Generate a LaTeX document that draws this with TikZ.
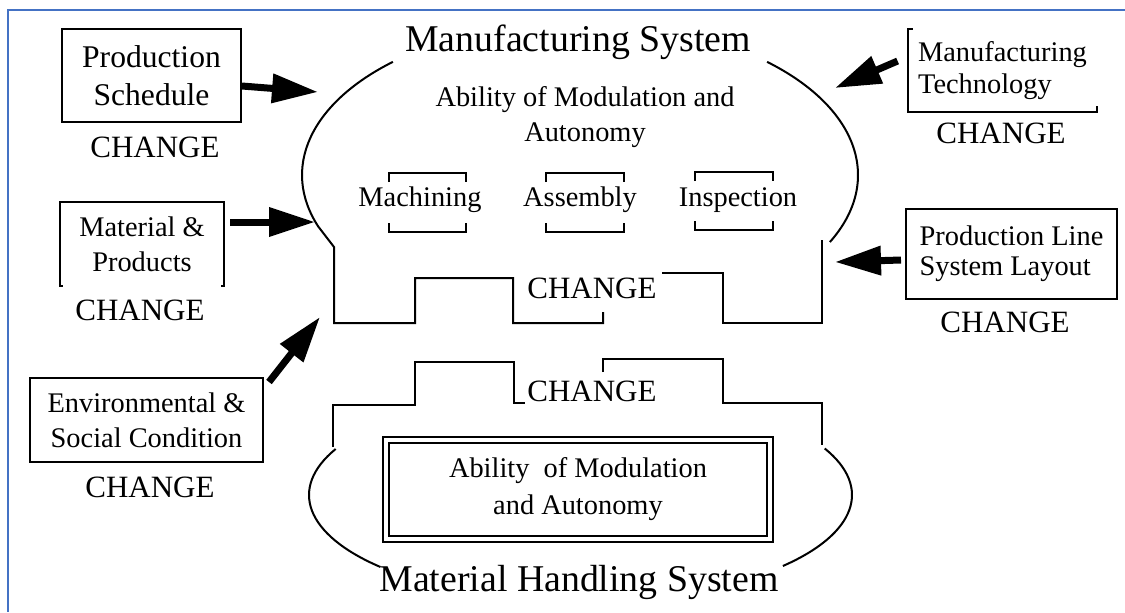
\documentclass[tikz,border=0pt]{standalone}
\usepackage{fontspec}
\setmainfont{Liberation Serif}
\usetikzlibrary{arrows.meta}
\definecolor{framecol}{RGB}{68,114,196}

\begin{document}
\begin{tikzpicture}[x=0.5pt,y=-0.5pt,
    box/.style={draw=black, line width=1pt, inner sep=0pt},
    lbl/.style={align=center, font=\fontsize{14.2pt}{17.5pt}\selectfont},
    chg/.style={font=\fontsize{15.5pt}{18pt}\selectfont},
    ttl/.style={font=\fontsize{18.9pt}{22pt}\selectfont},
    fatarrow/.style={line width=3.5pt, -{Triangle[length=23pt,width=14pt]}},
    outline/.style={line width=1pt}]
        \useasboundingbox (0,0) rectangle (1125,612);
        \draw[framecol, line width=1pt] (1125,9.5) -- (8,9.5) -- (8,612);

        % changing factors round the two systems
        \node[box, align=center, minimum width=89.5pt, minimum height=46.5pt, font=\fontsize{15.8pt}{19pt}\selectfont] (sched) at (151.5,75.5) {Production\\Schedule};
        \node[chg] (schedchg) at (155,147) {CHANGE};
        \node[lbl, minimum width=82pt, minimum height=42pt] (matl) at (142,244) {Material \&\\Products};
        \node[chg] (matlchg) at (140,310) {CHANGE};
        \node[box, lbl, minimum width=116.5pt, minimum height=42pt] (env) at (146.5,420) {Environmental \&\\Social Condition};
        \node[chg] (envchg) at (150,487) {CHANGE};
        \node[lbl, align=left, minimum width=94.5pt, minimum height=41.5pt, font=\fontsize{14.2pt}{16pt}\selectfont] (tech) at (1002.5,70.5) {Manufacturing\\Technology};
        \node[chg] (techchg) at (1001,133) {CHANGE};
        \node[box, lbl, align=left, minimum width=105.5pt, minimum height=45pt, font=\fontsize{14.2pt}{15pt}\selectfont] (pline) at (1011.5,254) {Production Line\\System Layout};
        \node[chg] (plinechg) at (1005,322) {CHANGE};

        \draw[outline] ([xshift=1.5pt]matl.south west) -- (matl.south west) -- (matl.north west) -- (matl.north east) -- (matl.south east) -- ([xshift=-1.5pt]matl.south east);
        \draw[outline] ([xshift=2.5pt]tech.north west) -- (tech.north west) -- (tech.south west) -- (tech.south east) -- ([yshift=3pt]tech.south east);

        % manufacturing system
        \node[ttl] (mfg) at (578,42) {Manufacturing System};
        \node[lbl] (mfgab) at (585,117) {Ability of Modulation and\\Autonomy};
        \node[lbl] (mach) at (420,200) {Machining};
        \node[lbl] (asm) at (580,200) {Assembly};
        \node[lbl] (insp) at (738,200) {Inspection};
        \node[chg] (upchg) at (592,288) {CHANGE};
        \foreach \xa/\xb/\yt/\yb in {389/466/173/232, 546/624/173/232, 695/773/172/230} {
            \draw[outline] (\xa,\yt+9) -- (\xa,\yt) -- (\xb,\yt) -- (\xb,\yt+9);
            \draw[outline] (\xa,\yb-9) -- (\xa,\yb) -- (\xb,\yb) -- (\xb,\yb-9);
        }
        \coordinate (upc) at (580,175);
        \draw[outline] ([shift={(227.7:278 and 153)}]upc) arc[start angle=227.7, end angle=160.3, x radius=278, y radius=153]
            -- (334,247) -- (334,323) -- (415,323) -- (415,278) -- (513,278) -- (513,323) -- (603,323) -- (603,312);
        \draw[outline] ([shift={(-47.7:278 and 153)}]upc) arc[start angle=-47.7, end angle=26, x radius=278, y radius=153];
        \draw[outline] (662,273) -- (723,273) -- (723,323) -- (822,323) -- (822,240);

        % material handling system
        \node[chg] (lochg) at (592,391) {CHANGE};
        \node[box, lbl, double, double distance=2pt, minimum width=192pt, minimum height=49.5pt, font=\fontsize{14.2pt}{18.5pt}\selectfont] (mhsab) at (578,489.5) {Ability\ \ of Modulation\\and Autonomy};
        \node[ttl] (mhs) at (579,582) {Material Handling System};
        \coordinate (loc) at (580.5,495);
        \draw[outline] (333,447) -- (333,405) -- (415,405) -- (415,362) -- (514,362) -- (514,403) -- (525,403);
        \draw[outline] (603,372) -- (603,359) -- (723,359) -- (723,403) -- (822,403) -- (822,445);
        \draw[outline] ([shift={(205.6:271.5 and 106.5)}]loc) arc[start angle=205.6, end angle=137.5, x radius=271.5, y radius=106.5];
        \draw[outline] ([shift={(-25.9:271.5 and 106.5)}]loc) arc[start angle=-25.9, end angle=41.8, x radius=271.5, y radius=106.5];

        % arrows
        \coordinate (schedtip) at (318,92);
        \coordinate (matltip) at (315,222);
        \coordinate (envtip) at (320,317);
        \coordinate (techtip) at (835,88);
        \coordinate (linetip) at (835,262);
        \draw[fatarrow] ([yshift=-5.25pt]sched.east) -- (schedtip);
        \draw[fatarrow] ([shift={(6,-22)}]matl.east) -- (matltip);
        \draw[fatarrow] ([shift={(5,5)}]env.north east) -- (envtip);
        \draw[fatarrow] ([shift={(-10,-9.5)}]tech.west) -- (techtip);
        \draw[fatarrow] ([shift={(-4,6)}]pline.west) -- (linetip);
\end{tikzpicture}
\end{document}
